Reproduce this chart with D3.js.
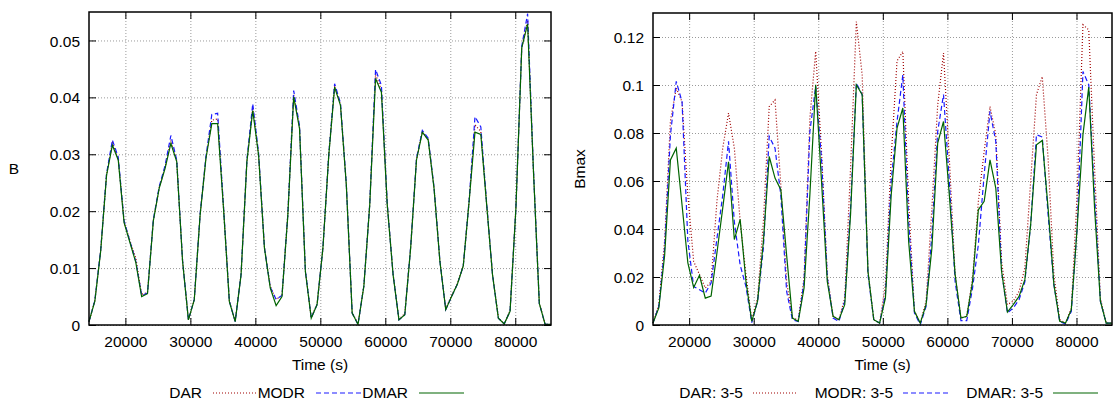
<!DOCTYPE html>
<html>
<head>
<meta charset="utf-8">
<script src="https://cdn.jsdelivr.net/npm/d3@7"></script>
<style>
  body { margin: 0; background: #fff; }
  svg { display: block; font-family: "Liberation Sans", Arial, sans-serif; }
  .grid line { stroke: #9a9a9a; stroke-dasharray: 1,2; stroke-width: 1; }
  .grid path { display: none; }
  .axis path { display: none; }
  .axis line { stroke: #000; stroke-width: 1; }
  .axis text { font-size: 15.5px; fill: #000; font-family: "Liberation Sans", Arial, sans-serif; }
</style>
</head>
<body>
<svg class="Chart" width="1113" height="405"></svg>
<script>
// sample times (s)
const times = [
  14400,15300,16200,17100,18000,18900,19800,20700,21600,22500,
  23400,24300,25200,26100,27000,27900,28800,29700,30600,31500,
  32400,33300,34200,35100,36000,36900,37800,38700,39600,40500,
  41400,42300,43200,44100,45000,45900,46800,47700,48600,49500,
  50400,51300,52200,53100,54000,54900,55800,56700,57600,58500,
  59400,60300,61200,62100,63000,63900,64800,65700,66600,67500,
  68400,69300,70200,71100,72000,72900,73800,74700,75600,76500,
  77400,78300,79200,80100,81000,81900,82800,83700,84600,85500
];

// left panel: B
const bDAR = [
  0.0006,0.0043,0.0131,0.0264,0.0320,0.0292,0.0182,0.0148,0.0118,0.0054,
  0.0057,0.0184,0.0241,0.0277,0.0324,0.0288,0.0113,0.0009,0.0045,0.0194,
  0.0294,0.0360,0.0362,0.0207,0.0042,0.0007,0.0089,0.0288,0.0382,0.0299,
  0.0136,0.0068,0.0045,0.0052,0.0194,0.0405,0.0347,0.0095,0.0013,0.0037,
  0.0136,0.0299,0.0420,0.0387,0.0247,0.0022,0.0002,0.0069,0.0211,0.0440,
  0.0414,0.0212,0.0089,0.0010,0.0020,0.0136,0.0291,0.0340,0.0326,0.0241,
  0.0113,0.0028,0.0052,0.0073,0.0105,0.0218,0.0352,0.0340,0.0212,0.0089,
  0.0013,0.0002,0.0025,0.0206,0.0488,0.0535,0.0272,0.0039,0.0001,0.0001
];
const bMODR = [
  0.0006,0.0043,0.0132,0.0266,0.0325,0.0295,0.0183,0.0147,0.0112,0.0052,
  0.0056,0.0185,0.0243,0.0280,0.0333,0.0290,0.0113,0.0009,0.0045,0.0195,
  0.0296,0.0370,0.0372,0.0208,0.0042,0.0006,0.0089,0.0290,0.0389,0.0302,
  0.0136,0.0066,0.0045,0.0052,0.0195,0.0412,0.0350,0.0095,0.0012,0.0036,
  0.0136,0.0300,0.0424,0.0390,0.0248,0.0021,0.0001,0.0069,0.0212,0.0449,
  0.0421,0.0213,0.0089,0.0009,0.0018,0.0137,0.0293,0.0342,0.0328,0.0242,
  0.0113,0.0027,0.0050,0.0072,0.0104,0.0219,0.0366,0.0348,0.0213,0.0089,
  0.0012,0.0002,0.0024,0.0206,0.0490,0.0547,0.0273,0.0038,0.0001,0.0001
];
const bDMAR = [
  0.0006,0.0042,0.0130,0.0263,0.0316,0.0290,0.0180,0.0145,0.0110,0.0050,
  0.0055,0.0183,0.0240,0.0275,0.0319,0.0287,0.0112,0.0009,0.0044,0.0193,
  0.0293,0.0354,0.0354,0.0205,0.0041,0.0006,0.0088,0.0287,0.0377,0.0298,
  0.0135,0.0065,0.0034,0.0050,0.0193,0.0401,0.0345,0.0094,0.0012,0.0036,
  0.0135,0.0298,0.0418,0.0386,0.0246,0.0021,0.0001,0.0068,0.0210,0.0433,
  0.0409,0.0211,0.0088,0.0009,0.0018,0.0135,0.0290,0.0339,0.0325,0.0240,
  0.0112,0.0027,0.0050,0.0072,0.0104,0.0217,0.0339,0.0335,0.0211,0.0088,
  0.0012,0.0002,0.0024,0.0205,0.0487,0.0529,0.0270,0.0038,0.0001,0.0001
];

// right panel: Bmax
const bmaxDAR = [
  0.0008,0.0085,0.0350,0.0850,0.0987,0.0930,0.0540,0.0265,0.0210,0.0154,
  0.0180,0.0515,0.0737,0.0883,0.0737,0.0432,0.0210,0.0022,0.0112,0.0432,
  0.0910,0.0938,0.0584,0.0180,0.0029,0.0022,0.0196,0.0862,0.1140,0.0723,
  0.0210,0.0036,0.0022,0.0112,0.0654,0.1264,0.1042,0.0223,0.0022,0.0008,
  0.0168,0.0700,0.1100,0.1140,0.0515,0.0057,0.0008,0.0099,0.0487,0.0917,
  0.1133,0.0695,0.0210,0.0029,0.0036,0.0196,0.0515,0.0723,0.0910,0.0793,
  0.0265,0.0085,0.0099,0.0140,0.0237,0.0600,0.0960,0.1035,0.0695,0.0210,
  0.0022,0.0008,0.0071,0.0543,0.1251,0.1230,0.0654,0.0112,0.0008,0.0008
];
const bmaxMODR = [
  0.0008,0.0078,0.0320,0.0790,0.1015,0.0930,0.0350,0.0160,0.0147,0.0133,
  0.0175,0.0360,0.0540,0.0765,0.0430,0.0250,0.0160,0.0010,0.0099,0.0320,
  0.0786,0.0737,0.0540,0.0140,0.0022,0.0015,0.0180,0.0806,0.0994,0.0695,
  0.0196,0.0029,0.0015,0.0099,0.0487,0.1008,0.0960,0.0210,0.0022,0.0008,
  0.0126,0.0600,0.0848,0.1042,0.0432,0.0050,0.0001,0.0078,0.0376,0.0806,
  0.0960,0.0600,0.0180,0.0018,0.0018,0.0154,0.0335,0.0626,0.0890,0.0765,
  0.0223,0.0050,0.0071,0.0105,0.0180,0.0418,0.0793,0.0783,0.0460,0.0168,
  0.0015,0.0004,0.0057,0.0404,0.1056,0.1001,0.0543,0.0099,0.0008,0.0008
];
const bmaxDMAR = [
  0.0008,0.0071,0.0290,0.0688,0.0737,0.0500,0.0259,0.0156,0.0207,0.0112,
  0.0121,0.0300,0.0487,0.0680,0.0356,0.0440,0.0182,0.0015,0.0099,0.0348,
  0.0702,0.0612,0.0564,0.0290,0.0029,0.0015,0.0154,0.0543,0.1001,0.0600,
  0.0180,0.0036,0.0022,0.0085,0.0460,0.1001,0.0960,0.0223,0.0022,0.0008,
  0.0112,0.0543,0.0820,0.0904,0.0348,0.0057,0.0008,0.0085,0.0320,0.0758,
  0.0848,0.0543,0.0210,0.0029,0.0036,0.0180,0.0480,0.0515,0.0688,0.0570,
  0.0223,0.0054,0.0085,0.0119,0.0189,0.0418,0.0751,0.0769,0.0487,0.0168,
  0.0015,0.0008,0.0064,0.0404,0.0793,0.0991,0.0487,0.0099,0.0008,0.0008
];

const xTicks = [20000, 30000, 40000, 50000, 60000, 70000, 80000];
const bTicks = [0, 0.01, 0.02, 0.03, 0.04, 0.05];
const bTickLabels = ["0", "0.01", "0.02", "0.03", "0.04", "0.05"];
const bmaxTicks = [0, 0.02, 0.04, 0.06, 0.08, 0.1, 0.12];
const bmaxTickLabels = ["0", "0.02", "0.04", "0.06", "0.08", "0.1", "0.12"];
const leftNames = ["DAR", "MODR", "DMAR"];
const rightNames = ["DAR: 3-5", "MODR: 3-5", "DMAR: 3-5"];

const styles = [
  {color: "#a00000", dash: "1,2"},
  {color: "#1a1aff", dash: "5,3"},
  {color: "#006400", dash: null}
];

let svg = d3.select(".Chart");

function drawPanel(p) {
  let width = p.right - p.left,
      height = p.bottom - p.top;
  let g = svg.append("g").attr("transform", "translate(" + p.left + "," + p.top + ")");
  let x = d3.scaleLinear().domain([14400, 85500]).range([0, width]);
  let y = d3.scaleLinear().domain(p.yDomain).range([height, 0]);

  // grid
  g.append("g").attr("class", "grid")
    .call(d3.axisLeft(y).tickValues(p.yTicks).tickSize(-width).tickFormat(""));
  g.append("g").attr("class", "grid").attr("transform", "translate(0," + height + ")")
    .call(d3.axisBottom(x).tickValues(xTicks).tickSize(-height).tickFormat(""));

  // series
  let line = d3.line().x((d, i) => x(times[i])).y(d => y(d));
  p.series.forEach(function(s, k) {
    g.append("path")
      .datum(s)
      .attr("fill", "none")
      .attr("stroke", styles[k].color)
      .attr("stroke-width", 1.2)
      .attr("stroke-dasharray", styles[k].dash)
      .attr("d", line);
  });

  // axes with inward ticks on all sides
  g.append("g").attr("class", "axis")
    .call(d3.axisLeft(y).tickValues(p.yTicks).tickSize(-7).tickPadding(9)
      .tickFormat((d, i) => p.yLabels[i]))
    .selectAll("text").attr("dy", "0.36em");
  g.append("g").attr("class", "axis").attr("transform", "translate(" + width + ",0)")
    .call(d3.axisRight(y).tickValues(p.yTicks).tickSize(-7).tickFormat(""));
  g.append("g").attr("class", "axis").attr("transform", "translate(0," + height + ")")
    .call(d3.axisBottom(x).tickValues(xTicks).tickSize(-7).tickPadding(11).tickFormat(d => d));
  g.append("g").attr("class", "axis")
    .call(d3.axisTop(x).tickValues(xTicks).tickSize(-7).tickFormat(""));

  g.append("rect")
    .attr("width", width).attr("height", height)
    .attr("fill", "none").attr("stroke", "#000").attr("stroke-width", 1.5);

  // x label
  svg.append("text")
    .attr("x", p.left + width / 2).attr("y", 370)
    .attr("text-anchor", "middle").attr("font-size", 15.5)
    .text("Time (s)");

  // y label
  if (p.yRotate) {
    svg.append("text")
      .attr("transform", "translate(" + p.yLabelX + "," + (p.top + height / 2) + ")rotate(-90)")
      .attr("text-anchor", "middle").attr("dy", "0.35em").attr("font-size", 15.5)
      .text(p.yTitle);
  } else {
    svg.append("text")
      .attr("x", p.yLabelX).attr("y", p.top + height / 2)
      .attr("text-anchor", "middle").attr("dy", "0.35em").attr("font-size", 15.5)
      .text(p.yTitle);
  }

  // legend
  p.names.forEach(function(name, k) {
    let tx = p.legendX + k * p.legendStep;
    svg.append("text")
      .attr("x", tx).attr("y", 398)
      .attr("text-anchor", "end").attr("font-size", 15.5)
      .text(name);
    svg.append("line")
      .attr("x1", tx + p.sampleGap).attr("x2", tx + p.sampleGap + 45)
      .attr("y1", 393).attr("y2", 393)
      .attr("stroke", styles[k].color)
      .attr("stroke-width", 1.2)
      .attr("stroke-dasharray", styles[k].dash);
  });
}

drawPanel({
  left: 89, right: 551, top: 12, bottom: 325,
  yDomain: [0, 0.055], yTicks: bTicks, yLabels: bTickLabels,
  series: [bDAR, bMODR, bDMAR],
  yTitle: "B", yLabelX: 14, yRotate: false,
  names: leftNames, legendX: 202, legendStep: 103, sampleGap: 11
});

drawPanel({
  left: 653, right: 1112, top: 13, bottom: 325,
  yDomain: [0, 0.13], yTicks: bmaxTicks, yLabels: bmaxTickLabels,
  series: [bmaxDAR, bmaxMODR, bmaxDMAR],
  yTitle: "Bmax", yLabelX: 580, yRotate: true,
  names: rightNames, legendX: 743, legendStep: 150, sampleGap: 10
});
</script>
</body>
</html>
